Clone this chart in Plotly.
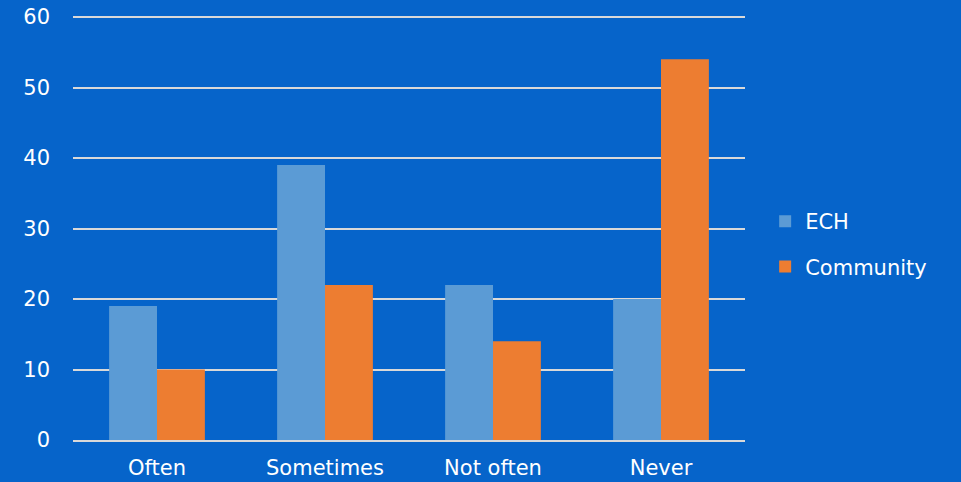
import plotly.graph_objects as go

categories = ["Often", "Sometimes", "Not often", "Never"]
ech = [19, 39, 22, 20]
community = [10, 22, 14, 54]
y_ticks = [0, 10, 20, 30, 40, 50, 60]

bg = "#0664CA"
fnt = dict(family="Century Gothic, DejaVu Sans, sans-serif", size=21, color="white")

fig = go.Figure()
fig.add_bar(x=categories, y=ech, name="ECH", marker=dict(color="#5B9BD5", line=dict(width=0)), legendgroup="a")
fig.add_bar(x=categories, y=community, name="Community", marker=dict(color="#ED7D31", line=dict(width=0)), legendgroup="b")

fig.update_layout(
    width=961, height=482,
    paper_bgcolor=bg, plot_bgcolor=bg,
    margin=dict(l=73, r=216, t=16, b=42, autoexpand=False),
    barmode="group", bargap=0.43, bargroupgap=0,
    font=fnt,
    legend=dict(x=1.030, xanchor="left", xref="paper", y=0.462, yanchor="middle",
                font=fnt, tracegroupgap=15, bgcolor="rgba(0,0,0,0)",
                itemwidth=30),
    xaxis=dict(showgrid=False, showline=True, linecolor="#D9D9D9", linewidth=2,
               ticks="", tickfont=fnt, ticklabelstandoff=8, automargin=False),
    yaxis=dict(range=[0, 60.15], tickvals=y_ticks, showgrid=True, gridcolor="#D9D9D9",
               gridwidth=2, zeroline=False, showline=False, ticks="", tickfont=fnt,
               ticklabelstandoff=22, automargin=False),
)
fig.write_html("out.html")
